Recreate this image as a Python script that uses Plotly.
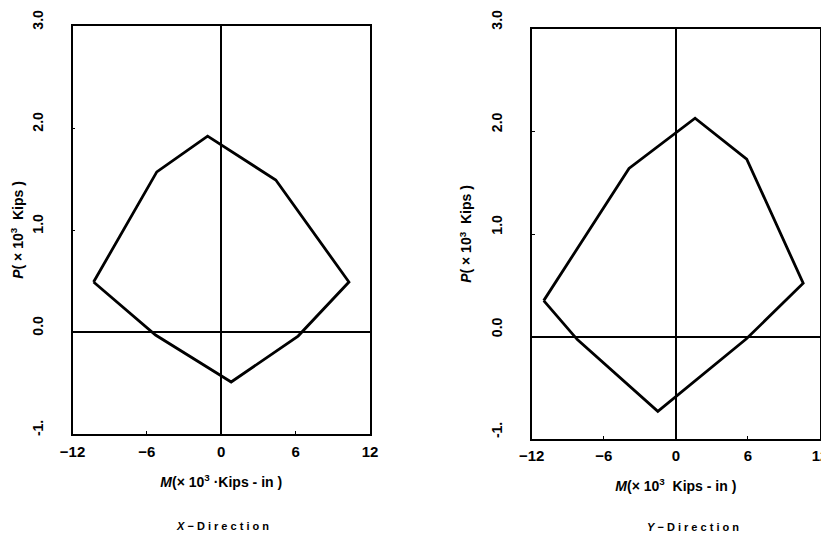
import plotly.graph_objects as go

# X-direction interaction curve (M in 10^3 kips-in, P in 10^3 kips)
mx = [-10.3, -5.2, -1.1, 4.4, 10.3, 6.2, 0.8, -5.3, -10.3]
px = [0.49, 1.57, 1.92, 1.49, 0.49, -0.04, -0.49, -0.03, 0.49]

# Y-direction interaction curve
my = [-11.0, -3.9, 1.6, 5.9, 10.6, 5.9, -1.5, -8.2, -11.0]
py = [0.35, 1.64, 2.13, 1.73, 0.52, -0.02, -0.73, -0.03, 0.35]

x_ticks = [-12, -6, 0, 6, 12]
x_ticktext = ["\u221212", "\u22126", "0", "6", "12"]
y_ticks = [-1, 0, 1, 2, 3]
y_ticktext = ["-1.", "0.0", "1.0", "2.0", "3.0"]

OFF = 8  # page body margin
W, H = 829 - OFF, 537 - OFF
FONT = "Liberation Sans"

def fx(v):
    return (v - OFF) / W

def fy(v):
    return 1 - (v - OFF) / H

fig = go.Figure()
fig.add_trace(go.Scatter(x=mx, y=px, mode="lines", line=dict(color="black", width=2.8),
                         xaxis="x", yaxis="y", showlegend=False, hoverinfo="skip"))
fig.add_trace(go.Scatter(x=my, y=py, mode="lines", line=dict(color="black", width=2.8),
                         xaxis="x2", yaxis="y2", showlegend=False, hoverinfo="skip"))

def xax(domain, anchor, title, standoff):
    return dict(domain=domain, anchor=anchor, range=[-12, 12], tickvals=x_ticks, ticktext=x_ticktext,
                showline=True, mirror=True, linecolor="black", linewidth=1.6,
                ticks="inside", ticklen=3, tickcolor="black", showgrid=False,
                zeroline=True, zerolinecolor="black", zerolinewidth=1.5,
                tickfont=dict(family=FONT, size=15, color="black", weight="bold"), ticklabelstandoff=standoff,
                ticklabeloverflow="allow",
                title=dict(text=title, standoff=18, font=dict(family=FONT, size=14, color="black")),
                automargin=False)

def yax(domain, anchor, title, shift):
    return dict(domain=domain, anchor=anchor, range=[-1, 3], tickvals=y_ticks, ticktext=y_ticktext,
                showline=True, mirror=True, linecolor="black", linewidth=1.6,
                ticks="inside", ticklen=3, tickcolor="black", showgrid=False,
                zeroline=True, zerolinecolor="black", zerolinewidth=1.5,
                tickangle=-90, ticklabelshift=shift, ticklabelstandoff=22,
                ticklabeloverflow="allow",
                tickfont=dict(family=FONT, size=14, color="black", weight="bold"),
                title=dict(text=title, standoff=14, font=dict(family=FONT, size=14, color="black")),
                automargin=False)

xt1 = "<b><i>M</i>(\u00d7 10<sup>3</sup> \u00b7Kips - in )</b>"
xt2 = "<b><i>M</i>(\u00d7 10<sup>3</sup>  Kips - in )</b>"
yt = "<b><i>P</i>( \u00d7 10<sup>3</sup>  Kips )</b>"

fig.update_layout(
    width=W, height=H,
    margin=dict(l=0, r=0, t=0, b=0),
    paper_bgcolor="white", plot_bgcolor="white",
    xaxis=xax([fx(72.5), fx(370)], "y", xt1, 3),
    yaxis=yax([fy(434), fy(26)], "x", yt, -4),
    xaxis2=xax([fx(531.7), fx(820)], "y2", xt2, 2),
    yaxis2=yax([fy(439), fy(29)], "x2", yt, -7),
    annotations=[
        dict(text="<b><i>X</i> \u2212 D i r e c t i o n</b>", x=fx(222), y=fy(526), xref="paper", yref="paper",
             xanchor="center", yanchor="middle",
             showarrow=False, font=dict(family=FONT, size=11, color="black")),
        dict(text="<b><i>Y</i> \u2212 D i r e c t i o n</b>", x=fx(693), y=fy(527), xref="paper", yref="paper",
             xanchor="center", yanchor="middle",
             showarrow=False, font=dict(family=FONT, size=11, color="black")),
    ],
)

fig.write_html("out.html")
